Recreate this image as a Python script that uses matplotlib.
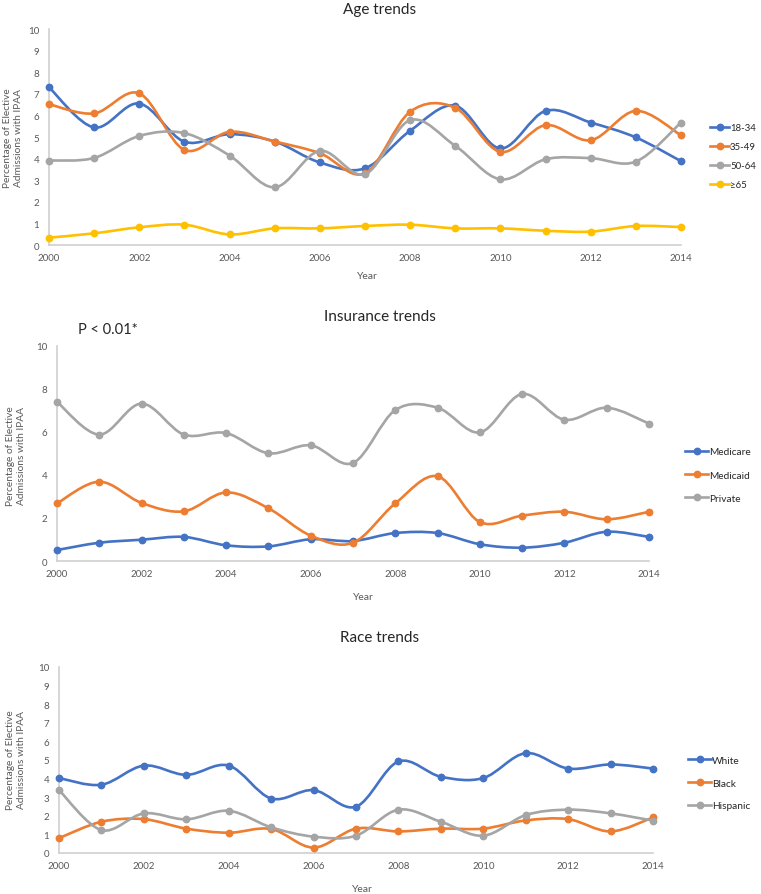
import matplotlib
matplotlib.use('Agg')
import matplotlib.pyplot as plt
from matplotlib.path import Path
from matplotlib.patches import PathPatch
from matplotlib.lines import Line2D
import numpy as np

plt.rcParams['font.family'] = ['Lato', 'DejaVu Sans']

years = list(range(2000, 2015))

# age trends
age_labels = ['18-34', '35-49', '50-64', '≥65']
age_18_34 = [7.30, 5.44, 6.55, 4.78, 5.13, 4.79, 3.82, 3.55, 5.29, 6.45, 4.47, 6.21, 5.67, 4.98, 3.88]
age_35_49 = [6.52, 6.09, 7.02, 4.40, 5.24, 4.79, 4.25, 3.32, 6.17, 6.35, 4.31, 5.55, 4.85, 6.21, 5.08]
age_50_64 = [3.91, 4.03, 5.05, 5.18, 4.14, 2.67, 4.36, 3.28, 5.78, 4.59, 3.04, 3.97, 4.02, 3.86, 5.67]
age_65 = [0.34, 0.54, 0.82, 0.94, 0.49, 0.77, 0.77, 0.88, 0.94, 0.77, 0.77, 0.66, 0.62, 0.88, 0.83]

# insurance trends
ins_labels = ['Medicare', 'Medicaid', 'Private']
medicare = [0.51, 0.85, 0.99, 1.12, 0.73, 0.68, 1.01, 0.93, 1.30, 1.30, 0.78, 0.62, 0.85, 1.36, 1.12]
medicaid = [2.68, 3.69, 2.70, 2.31, 3.19, 2.45, 1.18, 0.85, 2.68, 3.94, 1.81, 2.11, 2.29, 1.94, 2.29]
private = [7.40, 5.88, 7.32, 5.88, 5.95, 5.01, 5.38, 4.56, 7.02, 7.13, 5.98, 7.77, 6.57, 7.13, 6.39]

# race trends
race_labels = ['White', 'Black', 'Hispanic']
white = [4.03, 3.67, 4.70, 4.20, 4.70, 2.93, 3.38, 2.49, 4.92, 4.10, 4.03, 5.37, 4.54, 4.76, 4.54]
black = [0.80, 1.68, 1.82, 1.31, 1.09, 1.29, 0.29, 1.31, 1.16, 1.31, 1.31, 1.75, 1.82, 1.16, 1.91]
hispanic = [3.38, 1.23, 2.13, 1.81, 2.27, 1.38, 0.88, 0.93, 2.33, 1.68, 0.93, 2.04, 2.33, 2.13, 1.74]

colors = ['#4472C4', '#ED7D31', '#A5A5A5', '#FFC000']
W, H = 761, 895
txt = '#595959'


def smooth_line(ax, x, y, color, z):
    # excel style smoothed line: cubic bezier segments between points
    pts = np.column_stack([x, y]).astype(float)
    verts = [pts[0]]
    codes = [Path.MOVETO]
    n = len(pts)
    for i in range(n - 1):
        p0 = pts[max(i - 1, 0)]
        p1 = pts[i]
        p2 = pts[i + 1]
        p3 = pts[min(i + 2, n - 1)]
        verts += [p1 + (p2 - p0) / 6, p2 - (p3 - p1) / 6, p2]
        codes += [Path.CURVE4] * 3
    patch = PathPatch(Path(verts, codes), fill=False, edgecolor=color, lw=1.9,
                      zorder=z, capstyle='round', joinstyle='round')
    ax.add_patch(patch)
    ax.plot(x, y, 'o', color=color, ms=4.6, zorder=z + 0.5, clip_on=False)


def make_panel(box, series, labels, yticks, title, title_y, year_xy, ylab_xy, leg_xy, leg_gap, leg_fs=7.3, hl=2.3):
    l, t, r, b = box
    ax = fig.add_axes([l / W, 1 - b / H, (r - l) / W, (b - t) / H])
    for i, s in enumerate(series):
        smooth_line(ax, years, s, colors[i], 3 + i)
    ax.set_xlim(2000, 2014)
    ax.set_ylim(0, 10)
    ax.set_xticks(range(2000, 2015, 2))
    ax.set_yticks(yticks)
    ax.tick_params(length=0, labelsize=7, colors=txt)
    ax.tick_params(axis='y', pad=7)
    ax.tick_params(axis='x', pad=6)
    for sp in ['top', 'right']:
        ax.spines[sp].set_visible(False)
    for sp in ['left', 'bottom']:
        ax.spines[sp].set_color('#D0D0D0')
        ax.spines[sp].set_linewidth(1.2)
    fig.text(380 / W, 1 - title_y / H, title, ha='center', va='center', fontsize=11, color='#262626')
    fig.text(year_xy[0] / W, 1 - year_xy[1] / H, 'Year', ha='center', va='center', fontsize=7.5, color=txt)
    fig.text(ylab_xy[0] / W, 1 - ylab_xy[1] / H, 'Percentage of Elective\nAdmissions with IPAA',
             rotation=90, ha='center', va='center', multialignment='center', fontsize=7.3, color=txt)
    handles = [Line2D([], [], color=colors[i], lw=1.9, marker='o', ms=4.6) for i in range(len(series))]
    ax.legend(handles, labels, loc='center left', bbox_to_anchor=(leg_xy[0] / W, 1 - leg_xy[1] / H),
              bbox_transform=fig.transFigure, frameon=False, fontsize=leg_fs, handlelength=hl,
              handletextpad=0.1, labelspacing=leg_gap, borderpad=0, borderaxespad=0,
              labelcolor='#262626')
    return ax


fig = plt.figure(figsize=(W / 100, H / 100), dpi=100)

make_panel((49, 30, 681, 246), [age_18_34, age_35_49, age_50_64, age_65], age_labels,
           range(0, 11), 'Age trends', 10, (367, 277), (13, 138), (710, 157), 1.05, leg_fs=6.9, hl=2.0)

make_panel((57, 347, 649, 562), [medicare, medicaid, private], ins_labels,
           range(0, 11, 2), 'Insurance trends', 317, (363, 598), (16, 456), (685, 476), 1.4)
fig.text(78 / W, 1 - 330 / H, 'P < 0.01*', ha='left', va='center', fontsize=10.5, color='#262626')

make_panel((59, 668, 653, 854), [white, black, hispanic], race_labels,
           range(0, 11), 'Race trends', 638, (362, 890), (16, 760), (688, 784), 1.35)

fig.savefig('out.png', dpi=100)
